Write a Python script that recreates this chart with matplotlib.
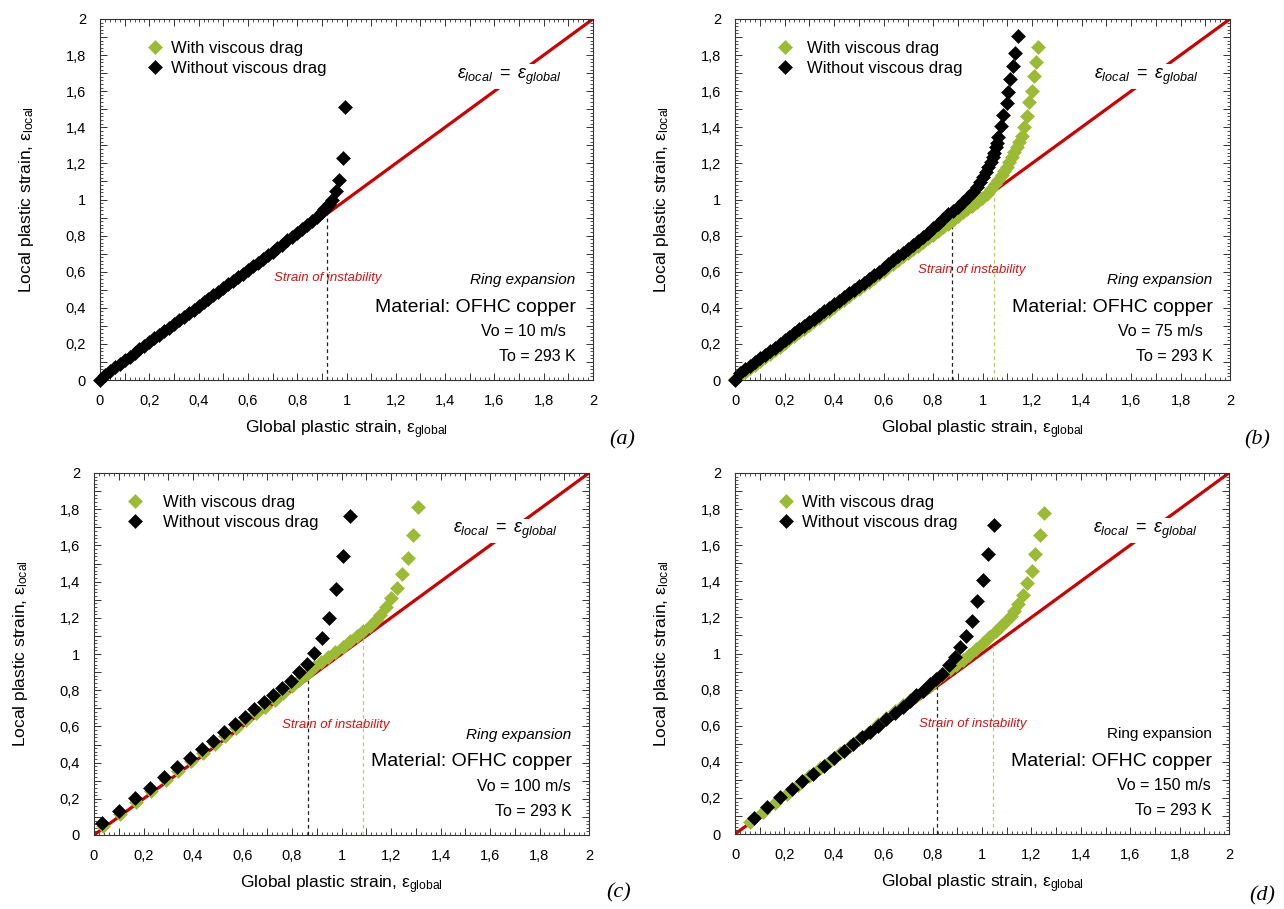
import numpy as np
import matplotlib
matplotlib.use('Agg')
import matplotlib.pyplot as plt
from matplotlib.ticker import MultipleLocator, FuncFormatter

plt.rcParams['font.family'] = ['Liberation Sans', 'DejaVu Sans']
plt.rcParams['mathtext.fontset'] = 'custom'
plt.rcParams['mathtext.rm'] = 'Liberation Sans'
plt.rcParams['mathtext.it'] = 'Liberation Sans:italic'
plt.rcParams['mathtext.bf'] = 'Liberation Sans:bold'

GREEN = '#9bbb34'
RED = '#cc0000'

# ---- data ----
# (a) Vo = 10 m/s : only the "without viscous drag" series
a_black_x = [0.00, 0.02, 0.04, 0.06, 0.08, 0.10, 0.12, 0.14, 0.16, 0.18, 0.20, 0.22, 0.24, 0.26,
             0.28, 0.30, 0.32, 0.34, 0.36, 0.38, 0.40, 0.42, 0.44, 0.46, 0.48, 0.50, 0.52, 0.54,
             0.56, 0.58, 0.60, 0.62, 0.64, 0.66, 0.68, 0.70, 0.72, 0.74, 0.76, 0.78, 0.80, 0.82,
             0.84, 0.86, 0.88, 0.90, 0.91, 0.92, 0.93, 0.94, 0.957, 0.970, 0.984, 0.995]
a_black_y = [0.00, 0.03, 0.05, 0.07, 0.09, 0.11, 0.13, 0.15, 0.17, 0.19, 0.21, 0.23, 0.25, 0.27,
             0.29, 0.31, 0.33, 0.35, 0.37, 0.39, 0.41, 0.43, 0.45, 0.47, 0.49, 0.51, 0.53, 0.55,
             0.57, 0.59, 0.61, 0.63, 0.65, 0.67, 0.69, 0.71, 0.73, 0.75, 0.775, 0.795, 0.815, 0.835,
             0.86, 0.88, 0.905, 0.93, 0.945, 0.96, 0.975, 0.995, 1.046, 1.109, 1.232, 1.514]
a_green_x = []
a_green_y = []

# (b) Vo = 75 m/s
b_black_x = [0.00, 0.02, 0.04, 0.06, 0.08, 0.10, 0.12, 0.14, 0.16, 0.18, 0.20, 0.22, 0.24, 0.26,
             0.28, 0.30, 0.32, 0.34, 0.36, 0.38, 0.40, 0.42, 0.44, 0.46, 0.48, 0.50, 0.52, 0.54,
             0.56, 0.58, 0.60, 0.62, 0.64, 0.66, 0.68, 0.70, 0.72, 0.74, 0.76, 0.78, 0.80, 0.82,
             0.84, 0.86, 0.88, 0.90, 0.92, 0.943, 0.96, 0.976, 0.99, 1.003, 1.014, 1.024, 1.033,
             1.041, 1.047, 1.053, 1.058, 1.064, 1.073, 1.084, 1.098, 1.104, 1.111, 1.122, 1.131, 1.145]
b_black_y = [0.00, 0.04, 0.06, 0.08, 0.10, 0.12, 0.14, 0.16, 0.18, 0.20, 0.22, 0.24, 0.26, 0.28,
             0.30, 0.32, 0.34, 0.36, 0.38, 0.40, 0.42, 0.44, 0.46, 0.48, 0.50, 0.52, 0.54, 0.56,
             0.58, 0.60, 0.62, 0.645, 0.665, 0.685, 0.705, 0.725, 0.75, 0.772, 0.795, 0.817, 0.84, 0.865,
             0.89, 0.918, 0.937, 0.96, 0.985, 1.013, 1.04, 1.068, 1.095, 1.123, 1.15, 1.179, 1.205,
             1.234, 1.26, 1.289, 1.315, 1.344, 1.409, 1.468, 1.532, 1.598, 1.667, 1.74, 1.81, 1.906]
b_green_x = [0.00, 0.02, 0.04, 0.06, 0.08, 0.10, 0.12, 0.14, 0.16, 0.18, 0.20, 0.22, 0.24, 0.26,
             0.28, 0.30, 0.32, 0.34, 0.36, 0.38, 0.40, 0.42, 0.44, 0.46, 0.48, 0.50, 0.52, 0.54,
             0.56, 0.58, 0.60, 0.62, 0.64, 0.66, 0.68, 0.70, 0.72, 0.74, 0.76, 0.78, 0.80, 0.82,
             0.84, 0.86, 0.88, 0.90, 0.92, 0.936, 0.956, 0.976, 0.996, 1.017, 1.034, 1.05, 1.064,
             1.077, 1.088, 1.098, 1.108, 1.118, 1.128, 1.138, 1.148, 1.158, 1.168, 1.178, 1.189,
             1.199, 1.207, 1.216, 1.226]
b_green_y = [0.005, 0.025, 0.045, 0.065, 0.085, 0.105, 0.125, 0.145, 0.165, 0.185, 0.205, 0.225,
             0.245, 0.265, 0.285, 0.305, 0.325, 0.345, 0.365, 0.385, 0.405, 0.425, 0.445, 0.465,
             0.485, 0.505, 0.525, 0.545, 0.565, 0.585, 0.605, 0.625, 0.645, 0.665, 0.685, 0.705,
             0.725, 0.745, 0.765, 0.785, 0.805, 0.825, 0.845, 0.865, 0.885, 0.907, 0.928, 0.945,
             0.962, 0.985, 1.008, 1.031, 1.06, 1.088, 1.11, 1.133, 1.156, 1.179, 1.206, 1.234,
             1.262, 1.289, 1.32, 1.354, 1.40, 1.464, 1.538, 1.602, 1.685, 1.764, 1.845]

# (c) Vo = 100 m/s
c_black_x = [0.031, 0.101, 0.166, 0.226, 0.283, 0.337, 0.388, 0.436, 0.482, 0.527, 0.570, 0.610,
             0.648, 0.687, 0.725, 0.761, 0.795, 0.828, 0.859, 0.889, 0.920, 0.949, 0.976, 1.007, 1.034]
c_black_y = [0.068, 0.134, 0.203, 0.262, 0.319, 0.374, 0.427, 0.473, 0.521, 0.567, 0.613, 0.654,
             0.694, 0.737, 0.773, 0.814, 0.851, 0.899, 0.945, 1.007, 1.087, 1.201, 1.357, 1.543, 1.762]
c_green_x = [0.035, 0.105, 0.17, 0.23, 0.29, 0.34, 0.39, 0.44, 0.49, 0.53, 0.575, 0.615, 0.655,
             0.69, 0.73, 0.765, 0.80, 0.83, 0.859, 0.889, 0.916, 0.947, 0.975, 1.007, 1.034, 1.061,
             1.088, 1.115, 1.139, 1.155, 1.178, 1.201, 1.223, 1.246, 1.270, 1.287, 1.310]
c_green_y = [0.052, 0.118, 0.185, 0.245, 0.302, 0.355, 0.407, 0.455, 0.503, 0.548, 0.593, 0.633,
             0.672, 0.708, 0.748, 0.784, 0.822, 0.855, 0.888, 0.930, 0.958, 0.985, 1.012, 1.040,
             1.072, 1.101, 1.129, 1.157, 1.188, 1.215, 1.262, 1.311, 1.363, 1.440, 1.532, 1.657, 1.810]

# (d) Vo = 150 m/s
d_black_x = [0.078, 0.131, 0.182, 0.229, 0.273, 0.316, 0.360, 0.400, 0.440, 0.478, 0.516, 0.545,
             0.578, 0.613, 0.646, 0.680, 0.707, 0.734, 0.761, 0.788, 0.812, 0.839, 0.865, 0.889,
             0.912, 0.936, 0.960, 0.980, 1.006, 1.026, 1.048]
d_black_y = [0.088, 0.147, 0.203, 0.249, 0.295, 0.335, 0.378, 0.420, 0.460, 0.501, 0.538, 0.567,
             0.600, 0.635, 0.672, 0.705, 0.737, 0.768, 0.792, 0.829, 0.856, 0.888, 0.934, 0.980,
             1.035, 1.096, 1.182, 1.289, 1.409, 1.552, 1.713]
d_green_x = [0.061, 0.112, 0.162, 0.209, 0.256, 0.300, 0.343, 0.384, 0.424, 0.465, 0.502, 0.539,
             0.579, 0.613, 0.649, 0.68, 0.71, 0.734, 0.76, 0.788, 0.815, 0.842, 0.87, 0.896, 0.922,
             0.949, 0.976, 1.003, 1.03, 1.057, 1.078, 1.098, 1.118, 1.131, 1.145, 1.165, 1.182,
             1.201, 1.216, 1.235, 1.253]
d_green_y = [0.064, 0.120, 0.171, 0.221, 0.273, 0.319, 0.365, 0.405, 0.451, 0.488, 0.529, 0.562,
             0.608, 0.641, 0.681, 0.713, 0.742, 0.766, 0.793, 0.822, 0.852, 0.884, 0.912, 0.939,
             0.966, 0.994, 1.025, 1.059, 1.09, 1.123, 1.15, 1.179, 1.206, 1.234, 1.274, 1.326,
             1.390, 1.459, 1.551, 1.657, 1.781]

black_x = [a_black_x, b_black_x, c_black_x, d_black_x]
black_y = [a_black_y, b_black_y, c_black_y, d_black_y]
green_x = [a_green_x, b_green_x, c_green_x, d_green_x]
green_y = [a_green_y, b_green_y, c_green_y, d_green_y]

speeds = ['Vo = 10 m/s', 'Vo = 75 m/s', 'Vo = 100 m/s', 'Vo = 150 m/s']
inst_black = [0.92, 0.878, 0.866, 0.819]   # strain of instability, without drag
inst_green = [None, 1.048, 1.088, 1.044]   # strain of instability, with drag
identity = [0, 2]
letters = ['(a)', '(b)', '(c)', '(d)']

# ---- layout ----
W, H = 1284, 909
rects = [(100 / W, 529 / H, 493 / W, 361 / H),
         (735 / W, 529 / H, 495 / W, 361 / H),
         (94 / W, 74 / H, 495 / W, 362 / H),
         (735 / W, 75 / H, 494 / W, 361 / H)]
letter_pos = [(622, 440), (1257, 440), (619, 893), (1262, 896)]
leg_x = [0.094, 0.084, 0.066, 0.086]
leg_pad = [0.45, 0.8, 1.15, 0.45]
vo_right = [0.945, 0.945, 0.964, 0.964]
strain_lbl = [(0.462, 0.283), (0.479, 0.304), (0.489, 0.304), (0.481, 0.304)]


def fmt(v, pos):
    k = int(round(v * 10))
    if k % 2:
        return ''
    return ('%g' % (k / 10)).replace('.', ',')


fig = plt.figure(figsize=(W / 100, H / 100), dpi=100)

for i in range(4):
    ax = fig.add_axes(rects[i])
    ax.set_xlim(0, 2)
    ax.set_ylim(0, 2)

    ax.plot(identity, identity, color=RED, lw=2.3, zorder=1, solid_capstyle='butt')

    xb = inst_black[i]
    ax.plot([xb, xb], [0, xb], color='#222222', lw=0.9, dashes=(3, 2.5), zorder=1.5)
    if inst_green[i] is not None:
        xg = inst_green[i]
        ax.plot([xg, xg], [0, xg], color='#b5cf6a', lw=0.9, dashes=(3, 2.5), zorder=1.5)

    ax.plot(green_x[i], green_y[i], 'D', color=GREEN, ms=7.1, mew=0.4, ls='none',
            label='With viscous drag', clip_on=False, zorder=3)
    ax.plot(black_x[i], black_y[i], 'D', color='black', ms=7.1, mew=0.4, ls='none',
            label='Without viscous drag', clip_on=False, zorder=4)

    ax.legend(loc='upper left', bbox_to_anchor=(leg_x[i], 0.94), frameon=False, fontsize=12,
              handlelength=1.0, handletextpad=leg_pad[i], labelspacing=0.3, borderpad=0,
              borderaxespad=0, numpoints=1)

    ax.text(0.83, 0.84, r'$\varepsilon_{local}\ =\ \varepsilon_{global}$', transform=ax.transAxes,
            ha='center', va='center', fontsize=13,
            bbox=dict(facecolor='white', edgecolor='none', pad=1.5), zorder=2)

    ax.text(strain_lbl[i][0], strain_lbl[i][1], 'Strain of instability', transform=ax.transAxes,
            ha='center', va='center', fontsize=9.5, style='italic', color='#dd1111')

    ax.text(0.965, 0.277, 'Ring expansion', transform=ax.transAxes, ha='right', va='center',
            fontsize=11, style='normal' if i == 3 else 'italic')
    ax.text(0.965, 0.202, 'Material: OFHC copper', transform=ax.transAxes, ha='right',
            va='center', fontsize=14)
    ax.text(vo_right[i], 0.133, speeds[i], transform=ax.transAxes, ha='right', va='center',
            fontsize=11.5)
    ax.text(0.965, 0.064, 'To = 293 K', transform=ax.transAxes, ha='right', va='center',
            fontsize=11.5)

    for axis in (ax.xaxis, ax.yaxis):
        axis.set_major_locator(MultipleLocator(0.1))
        axis.set_minor_locator(MultipleLocator(0.02))
        axis.set_major_formatter(FuncFormatter(fmt))
    ax.tick_params(which='both', direction='in', top=True, right=True, color='#333333',
                   labelsize=10.5, pad=10)
    ax.tick_params(which='major', length=5, width=0.7)
    ax.tick_params(which='minor', length=2.5, width=0.6)
    for s in ax.spines.values():
        s.set_color('#333333')
        s.set_linewidth(0.8)

    ax.set_xlabel('Global plastic strain, ε$_{\\mathrm{global}}$', fontsize=12.5)
    ax.set_ylabel('Local plastic strain, ε$_{\\mathrm{local}}$', fontsize=12.5)
    ax.xaxis.set_label_coords(0.5, -0.105)
    ax.yaxis.set_label_coords(-0.13, 0.5)

    fig.text(letter_pos[i][0] / W, 1 - letter_pos[i][1] / H, letters[i], ha='center',
             va='center', fontsize=16, family='Liberation Serif', style='italic')

fig.savefig('out.png', dpi=100)
